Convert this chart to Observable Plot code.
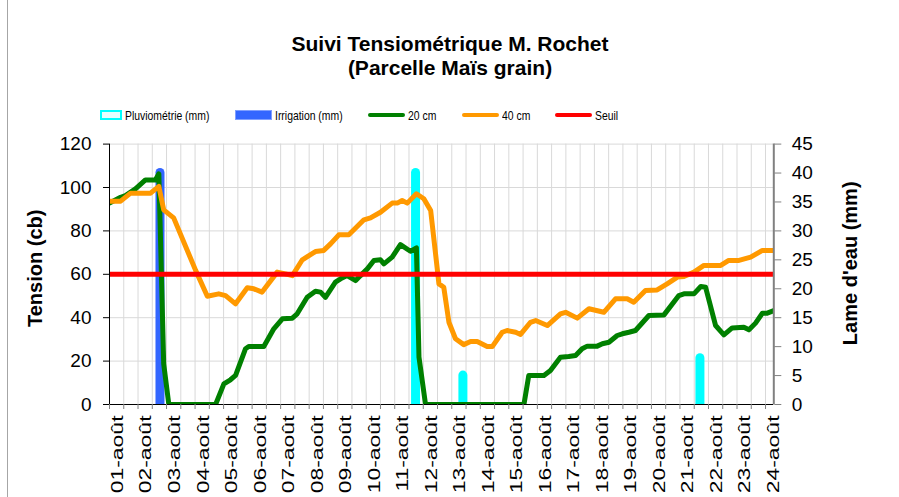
<!DOCTYPE html>
<html><head><meta charset="utf-8">
<script src="https://cdn.jsdelivr.net/npm/d3@7"></script>
<script src="https://cdn.jsdelivr.net/npm/@observablehq/plot@0.6"></script>
<style>
body{margin:0;background:#fff;font-family:"Liberation Sans",Arial,sans-serif;}
#wrap{position:relative;width:899px;height:497px;overflow:hidden;background:#fff;}
#border{position:absolute;left:7px;top:0;width:0;height:497px;border-left:1px solid #a6a6a6;z-index:5;}
#title{position:absolute;left:0;top:32px;width:900px;text-align:center;font-weight:bold;font-size:21px;line-height:24px;color:#000;}
#legend{position:absolute;left:0;top:0;width:899px;height:125px;}
.sw{position:absolute;box-sizing:border-box;}
.lt{position:absolute;font-size:13px;line-height:13px;white-space:nowrap;transform-origin:left center;transform:scaleX(0.8);color:#000;}
#chart{position:absolute;left:0;top:125px;}
</style></head><body>
<div id="wrap">
  <div id="title">Suivi Tensiométrique M. Rochet<br>(Parcelle Maïs grain)</div>
  <div id="legend"></div>
  <div id="chart"></div>
  <div id="border"></div>
</div>
<script>
// ---- Data ----
const jourTicks = d3.range(1, 25);                 // 01-août ... 24-août
const moisLabel = "août";
const seuil = 60;

// 20 cm tensiometer (cb), x = day of August (fractional)
const jours20 = [1.00,1.39,1.56,1.91,2.26,2.61,2.73,2.90,3.08,4.72,5.01,5.24,5.42,5.77,5.88,6.41,6.76,7.06,7.41,7.58,7.93,8.22,8.40,8.57,8.92,9.10,9.33,9.63,9.80,10.04,10.27,10.50,10.62,10.91,11.20,11.55,11.76,11.85,12.08,15.53,15.70,16.23,16.46,16.81,17.10,17.34,17.57,17.75,18.10,18.28,18.51,18.80,18.98,19.21,19.44,19.91,20.44,20.96,21.14,21.49,21.73,21.90,22.25,22.54,22.83,23.24,23.42,23.65,23.89,24.06,24.29];
const tension20 = [92.8,95.5,96.3,99.4,103.5,103.5,106.3,18.7,0,0,9.5,11.4,13.4,25.7,26.7,26.7,34.9,39.5,39.8,41.8,49.4,52.2,51.8,49.4,56.4,57.9,59.4,57.1,59.4,62.5,66.4,66.7,64.8,67.9,73.7,70.6,72.2,21.8,0,0,13.4,13.4,15.7,21.8,22.1,22.6,25.7,26.9,26.9,28.0,28.7,31.8,32.6,33.3,34.1,41.0,41.3,50.2,51.0,51.0,54.4,54.0,36.4,32.1,35.3,35.6,34.4,37.5,42.1,42.1,43.3];

// 40 cm tensiometer (cb)
const jours40 = [1.00,1.39,1.74,2.44,2.73,2.90,3.25,4.02,4.43,4.83,5.07,5.42,5.83,6.06,6.35,6.88,7.17,7.41,7.76,8.22,8.51,8.75,9.04,9.39,9.92,10.15,10.50,10.91,11.09,11.26,11.44,11.76,12.02,12.26,12.55,12.72,12.90,13.13,13.42,13.66,13.89,14.24,14.42,14.77,14.94,15.24,15.41,15.76,15.94,16.35,16.81,16.99,17.40,17.81,18.33,18.74,19.15,19.38,19.79,20.20,20.55,20.91,21.14,21.49,21.84,22.43,22.71,23.07,23.48,23.89,24.29];
const tension40 = [93.7,93.7,97.4,97.4,100.5,89.7,86.0,61.8,49.9,51.0,50.2,46.4,53.8,53.3,51.8,61.0,60.2,59.4,66.7,70.5,71.0,74.0,78.2,78.2,85.1,86.0,88.6,92.8,92.8,94.0,92.8,97.1,94.8,89.4,55.6,54.0,37.9,30.3,27.6,29.0,29.0,26.7,26.7,33.3,34.1,33.3,32.3,37.9,38.7,36.4,41.8,42.5,39.8,44.1,42.5,48.7,48.7,47.1,52.5,52.8,55.6,58.7,59.0,61.0,64.1,64.1,66.4,66.4,67.9,71.0,71.0];

// Water depth (mm), right axis
const pluieJour = [11.73, 13.39, 21.70];
const pluieMm   = [40, 5, 8];
const irrigJour = [2.77];
const irrigMm   = [40];

const mmTicks = d3.range(0, 50, 5);
const tensionTicks = d3.range(0, 140, 20);
const mmMax = 45, tMax = 120;
const mmToT = v => v * tMax / mmMax;

// ---- Legend ----
const legendItems = [
  {label: "Pluviométrie (mm)", kind: "pluie", color: "#00FFFF"},
  {label: "Irrigation (mm)", kind: "box", color: "#3366FF"},
  {label: "20 cm", kind: "line", color: "#008000"},
  {label: "40 cm", kind: "line", color: "#FF9900"},
  {label: "Seuil", kind: "line", color: "#FF0000"}
];
const legPos = [[100,22],[235,37],[368,37],[462,37],[555,37]];
const leg = document.getElementById("legend");
legendItems.forEach((it, i) => {
  const [x, w] = legPos[i];
  const s = document.createElement("div");
  s.className = "sw";
  if (it.kind === "pluie") {
    Object.assign(s.style, {left: x+"px", top: "110px", width: w+"px", height: "10px", border: "2px solid "+it.color, background: "#e6ffff"});
  } else if (it.kind === "box") {
    Object.assign(s.style, {left: x+"px", top: "110px", width: w+"px", height: "10px", border: "1px solid #7f9fff", background: it.color});
  } else {
    Object.assign(s.style, {left: x+"px", top: "113px", width: w+"px", height: "4px", background: it.color, borderRadius: "2px"});
  }
  leg.appendChild(s);
  const t = document.createElement("div");
  t.className = "lt";
  t.textContent = it.label;
  Object.assign(t.style, {left: (x + w + 3) + "px", top: "108.5px"});
  leg.appendChild(t);
});

// ---- Chart ----
const xMax = 24.29;
const chart = Plot.plot({
  width: 899,
  height: 372,
  marginLeft: 109,
  marginRight: 125.7,
  marginTop: 18.6,
  marginBottom: 93,
  style: {fontFamily: "'Liberation Sans', Arial, sans-serif", background: "transparent", color: "black"},
  x: {domain: [1, xMax]},
  y: {domain: [0, tMax]},
  marks: [
    Plot.gridX(d3.range(1.5, 24.01, 0.5), {stroke: "#d9d9d9", strokeOpacity: 1}),
    Plot.gridY(tensionTicks.filter(d => d > 0), {stroke: "#d9d9d9", strokeOpacity: 1}),
    Plot.ruleX(d3.range(pluieJour.length), {x: i => pluieJour[i], y1: 0, y2: i => mmToT(pluieMm[i]), stroke: "#00FFFF", strokeWidth: 9, strokeLinecap: "round", clip: true}),
    Plot.ruleX(d3.range(irrigJour.length), {x: i => irrigJour[i], y1: 0, y2: i => mmToT(irrigMm[i]), stroke: "#3366FF", strokeWidth: 9, strokeLinecap: "round", clip: true}),
    Plot.line(d3.range(jours20.length), {x: i => jours20[i], y: i => tension20[i], stroke: "#008000", strokeWidth: 5, strokeLinejoin: "round", strokeLinecap: "round", clip: true}),
    Plot.line(d3.range(jours40.length), {x: i => jours40[i], y: i => tension40[i], stroke: "#FF9900", strokeWidth: 5, strokeLinejoin: "round", strokeLinecap: "round", clip: true}),
    Plot.ruleY([seuil], {stroke: "#FF0000", strokeWidth: 5}),
    Plot.ruleX([xMax], {stroke: "#808080", strokeWidth: 2}),
    Plot.ruleX([1], {stroke: "black", strokeWidth: 1}),
    Plot.ruleY([0], {stroke: "black", strokeWidth: 1}),
    Plot.axisY({anchor: "left", ticks: tensionTicks, tickSize: 6, tickPadding: 12, fontSize: 19, label: null}),
    Plot.axisY({anchor: "right", ticks: mmTicks.map(mmToT), tickFormat: d => String(Math.round(d * mmMax / tMax)), tickSize: 7, tickPadding: 11, fontSize: 19, stroke: "#808080", label: null}),
    Plot.axisX({ticks: d3.range(1, 24.01, 0.5), tickFormat: () => "", tickSize: 5, stroke: "#808080", label: null}),
    Plot.axisX({ticks: jourTicks, tickFormat: d => String(d).padStart(2, "0") + "-" + moisLabel, tickSize: 0, tickPadding: 11, tickRotate: -90, fontSize: 17, dx: 8, label: null}),
    Plot.text(["Tension (cb)"], {frameAnchor: "left", textAnchor: "middle", rotate: -90, dx: -74, dy: -6, fontSize: 20, fontWeight: "bold", fill: "black"}),
    Plot.text(["Lame d'eau (mm)"], {frameAnchor: "right", textAnchor: "middle", rotate: -90, dx: 77, dy: -11, fontSize: 20, fontWeight: "bold", fill: "black"})
  ]
});
document.getElementById("chart").appendChild(chart);
chart.querySelectorAll('g[aria-label="x-axis tick label"] text').forEach(t => {
  const tr = t.getAttribute("transform") || "";
  t.setAttribute("transform", tr + " scale(1.35,1)");
});
</script>
</body></html>
